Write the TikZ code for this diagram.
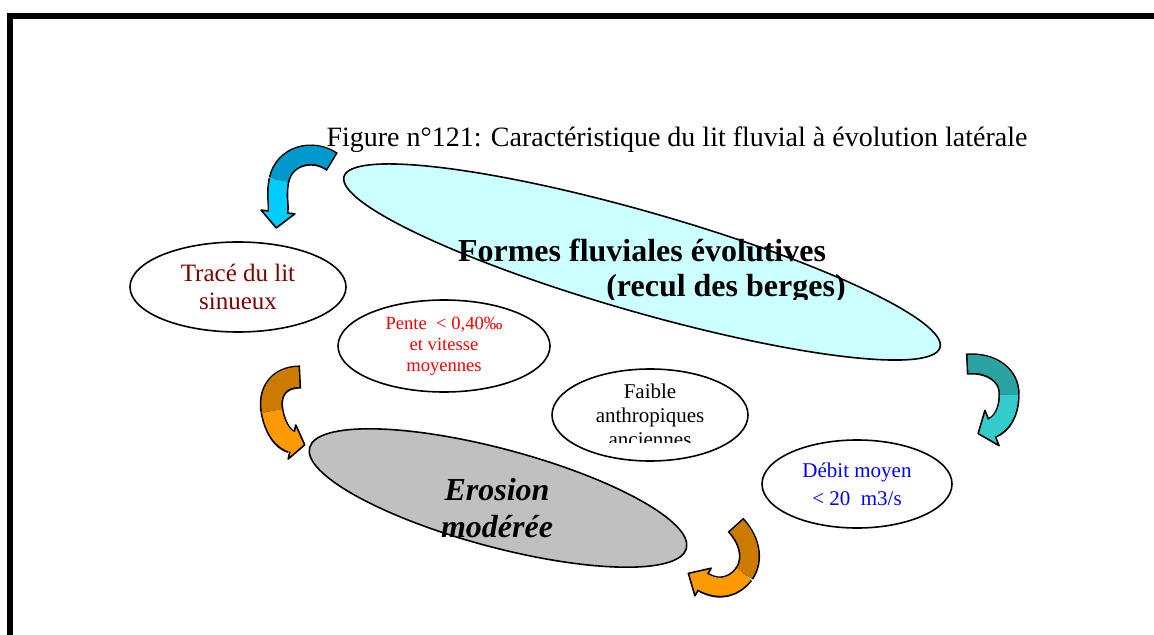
\documentclass[tikz,border=0pt]{standalone}
\usepackage{fontspec}
\setmainfont{Liberation Serif}
\usetikzlibrary{shapes.geometric,calc}

\definecolor{cyanfill}{HTML}{CCFFFF}
\definecolor{grayfill}{HTML}{C0C0C0}
\definecolor{maroon}{HTML}{800000}
\definecolor{cyandark}{HTML}{0099CC}
\definecolor{cyanlight}{HTML}{00CCFF}
\definecolor{tealdark}{HTML}{2CA3A3}
\definecolor{teallight}{HTML}{33CCCC}
\definecolor{orangedark}{HTML}{CC7A00}
\definecolor{orangelight}{HTML}{FF9900}

% curved ribbon arrow: #1 name, #2 dark part, #3 light part, #4 band width,
% #5 head half width, #6 head length
\newcommand{\ribbon}[6]{%
  \draw[line width=#4+1.6pt,shorten <=-0.8pt] (#1-0) .. controls (#1-1) and (#1-2) .. (#1-3);
  \draw[line width=#4,#2] (#1-0) .. controls (#1-1) and (#1-2) .. (#1-3);
  \draw[line width=#4+1.6pt] (#1-3) .. controls (#1-4) and (#1-5) .. (#1-6);
  \filldraw[fill=#3,line width=0.8pt,line join=round]
    ($(#1-6)!#5!90:(#1-5)$) -- ($(#1-6)!-#6!(#1-5)$) -- ($(#1-6)!#5!-90:(#1-5)$) -- cycle;
  \draw[line width=#4,#3,shorten >=-1pt] (#1-3) .. controls (#1-4) and (#1-5) .. (#1-6);
}

\begin{document}
\begin{tikzpicture}[x=0.5pt,y=-0.5pt,
  bubble/.style={draw,ellipse,line width=0.8pt,fill=white,inner sep=0pt,align=center},
  blob/.style={draw,line width=0.8pt}]
\useasboundingbox (0,0) rectangle (1154,635);
\clip (0,0) rectangle (1154,635);
\draw[line width=3pt] (10,16.5) rectangle (1180,660);   % frame

\node[anchor=base,font=\fontsize{14}{16}\selectfont] (title) at (677,147)
  {Figure n°121: Caractéristique du lit fluvial à évolution latérale};

% tilted ellipses
\draw[blob,fill=cyanfill,rotate around={-16:(642,262)}] (642,262) ellipse [x radius=310,y radius=50];
\draw[blob,fill=grayfill,rotate around={-15:(498,498)}] (498,498) ellipse [x radius=195,y radius=49];

\node[anchor=base,font=\fontsize{16}{18}\selectfont\bfseries] (formes) at (642,262)
  {Formes fluviales évolutives};
\begin{scope}
  \clip (580,270) rectangle (880,300);
  \node[anchor=base,font=\fontsize{16}{18}\selectfont\bfseries] (recul) at (726,297)
    {(recul des berges)};
\end{scope}
\node[align=center,font=\fontsize{16}{18.5}\selectfont\bfseries\itshape] (erosion) at (497,508)
  {Erosion\\modérée};

% small ellipses
\node[bubble,minimum width=108pt,minimum height=45pt,text=maroon,
  font=\fontsize{12.5}{14}\selectfont] (trace) at (238,287) {Tracé du lit\\sinueux};
\node[bubble,minimum width=106pt,minimum height=46pt,text=red,
  font=\fontsize{9.3}{10.5}\selectfont] (pente) at (444,346) {Pente\ \ < 0,40‰\\et vitesse\\moyennes};
\node[bubble,minimum width=98pt,minimum height=46pt] (faible) at (650,415) {};
\begin{scope}
  \clip (550,360) rectangle (750,442);
  \node[align=center,font=\fontsize{10.5}{12}\selectfont] (faibletext) at (650,415)
    {Faible\\anthropiques\\anciennes};
\end{scope}
\node[bubble,minimum width=95pt,minimum height=44pt,text=blue,
  font=\fontsize{10.5}{14}\selectfont] (debit) at (857,484) {Débit moyen\\< 20\ \ m3/s};

% arrows
\coordinate (cy-0) at (331,161); \coordinate (cy-1) at (312,148); \coordinate (cy-2) at (284,156);
\coordinate (cy-3) at (279,180); \coordinate (cy-4) at (276,195); \coordinate (cy-5) at (279,203);
\coordinate (cy-6) at (278,212);
\ribbon{cy}{cyandark}{cyanlight}{9pt}{8.5pt}{8pt}

\coordinate (te-0) at (968,364); \coordinate (te-1) at (992,362); \coordinate (te-2) at (1010,376);
\coordinate (te-3) at (1009,395); \coordinate (te-4) at (1009,412); \coordinate (te-5) at (1002,424);
\coordinate (te-6) at (992,428);
\ribbon{te}{tealdark}{teallight}{9pt}{9.5pt}{7.5pt}

\coordinate (or-0) at (299,377); \coordinate (or-1) at (276,377); \coordinate (or-2) at (269,395);
\coordinate (or-3) at (272,411); \coordinate (or-4) at (275,428); \coordinate (or-5) at (283,440);
\coordinate (or-6) at (292,442);
\ribbon{or}{orangedark}{orangelight}{10pt}{8.75pt}{6.5pt}

\coordinate (ob-0) at (736.5,526); \coordinate (ob-1) at (748,538); \coordinate (ob-2) at (755,558);
\coordinate (ob-3) at (744,574); \coordinate (ob-4) at (735,586); \coordinate (ob-5) at (720,592);
\coordinate (ob-6) at (703,582);
\ribbon{ob}{orangedark}{orangelight}{9pt}{8pt}{8.5pt}
\end{tikzpicture}
\end{document}
